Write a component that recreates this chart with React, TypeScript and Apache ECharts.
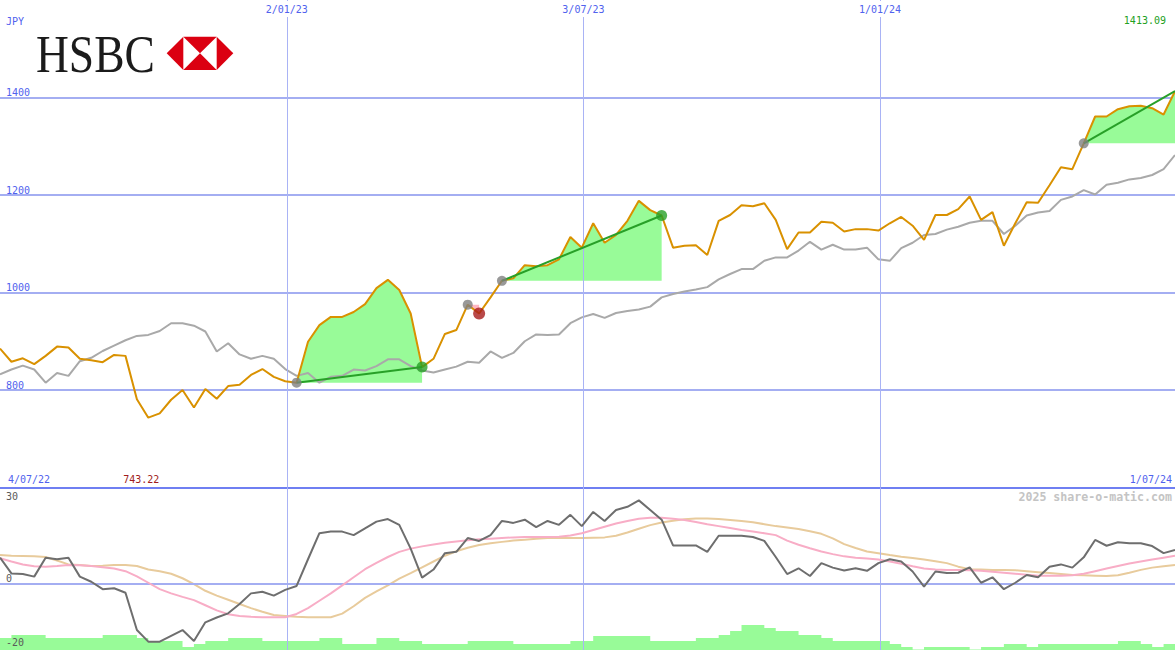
import React, { useEffect, useRef } from "react";
import * as echarts from "echarts";

// ---- data (weekly) ----
const START = Date.UTC(2022, 6, 10);
const WEEK = 7 * 24 * 3600 * 1000;

const price = [
  885, 858, 865, 853, 870, 889, 887, 864, 861, 857,
  872, 870, 781, 743.22, 752, 780, 800, 764, 802, 782,
  808, 811, 831, 843, 827, 818, 815, 899, 933, 950,
  950, 960, 976, 1009, 1026, 1005, 957, 847, 864, 915,
  923, 975, 957, 990, 1024, 1029, 1056, 1054, 1056, 1068,
  1114, 1092, 1142, 1102, 1118, 1147, 1188, 1169, 1158, 1092,
  1096, 1097, 1077, 1147, 1159, 1179, 1177, 1183, 1149, 1089,
  1123, 1123, 1145, 1143, 1125, 1130, 1130, 1127, 1142, 1155,
  1137, 1108, 1159, 1159, 1171, 1197, 1149, 1165, 1096, 1142,
  1185, 1184, 1220, 1257, 1253, 1306, 1361, 1361, 1376, 1382,
  1383, 1378, 1365, 1413.09,
];

const marketIndex = [
  832, 842, 850, 842, 815, 835, 829, 859, 866, 880,
  891, 902, 911, 913, 921, 937, 937, 932, 920, 879,
  896, 873, 864, 870, 864, 843, 829, 835, 815, 827,
  829, 842, 840, 849, 863, 863, 849, 840, 836, 842,
  848, 858, 856, 879, 866, 876, 900, 914, 913, 914,
  937, 949, 956, 948, 958, 962, 965, 971, 990, 997,
  1002, 1006, 1011, 1027, 1038, 1048, 1048, 1065, 1072, 1072,
  1086, 1104, 1088, 1098, 1088, 1088, 1092, 1068, 1065, 1091,
  1102, 1118, 1120, 1129, 1135, 1143, 1147, 1147, 1120, 1137,
  1158, 1164, 1167, 1190, 1197, 1210, 1201, 1221, 1225, 1232,
  1235, 1241, 1253, 1282,
];

const momentum = [
  8.2, 3.3, 3.1, 2.3, 8.2, 7.7, 8.2, 2.3, 0.7, -1.6,
  -1.3, -2.7, -14.3, -17.9, -17.9, -16.1, -14.3, -17.7, -11.9, -10.4,
  -9.1, -6.2, -2.9, -2.4, -3.6, -1.8, -0.6, 7.7, 15.8, 16.3,
  16.3, 15.2, 17.3, 19.4, 20.2, 18.4, 11, 2, 4.5, 9.6,
  10, 14.3, 13.4, 15.2, 19.6, 19, 20, 17.7, 19.6, 18.4,
  21.5, 18, 22.4, 19.6, 23, 24, 26, 23, 20, 12,
  12, 12, 10, 15, 15, 15, 14.6, 13.4, 8.4, 3.1,
  4.9, 2.5, 6.5, 5.1, 4.2, 4.9, 4.1, 6.5, 7.7, 7,
  3.9, -0.8, 3.9, 3.4, 3.5, 5.2, 0.4, 2.1, -1.6, 0.4,
  2.8, 2.1, 5.4, 6.1, 5.1, 8.3, 13.7, 11.9, 13, 12.7,
  12.7, 11.8, 9.6, 10.6,
];

const momentumFast = [
  8, 7, 6.1, 5.5, 5.4, 5.6, 5.9, 5.8, 5.6, 5.2,
  4.8, 4.0, 2.4, 0.4, -1.6, -2.9, -4.0, -5.0, -6.6, -8.2,
  -9.4, -9.9, -10.2, -10.3, -10.3, -10.3, -9.3, -7.5, -5.2, -2.9,
  -0.4, 2.1, 4.6, 6.6, 8.4, 10.0, 11.0, 11.7, 12.3, 12.8,
  13.2, 13.6, 13.9, 14.1, 14.3, 14.5, 14.6, 14.6, 14.6, 14.7,
  15.1, 15.8, 16.8, 17.8, 18.8, 19.6, 20.3, 20.6, 20.6, 20.3,
  19.9, 19.3, 18.6, 18.0, 17.4, 16.8, 16.3, 15.8, 15.2, 13.5,
  12.2, 11.1, 10.1, 9.3, 8.6, 8.2, 7.9, 7.6, 7.0, 6.3,
  5.5, 4.8, 4.5, 4.4, 4.4, 4.3, 4.1, 3.8, 3.5, 3.2,
  2.9, 2.6, 2.6, 2.6, 2.7, 3.2, 4.0, 4.8, 5.6, 6.4,
  7.0, 7.6, 8.2, 8.8,
];

const momentumSlow = [
  9.0, 8.8, 8.7, 8.6, 8.4, 7.3, 6.1, 5.9, 5.6, 5.7,
  5.9, 5.9, 5.6, 4.5, 4.0, 3.2, 1.8, 0.0, -2.1, -3.6,
  -4.9, -6.2, -7.5, -8.6, -9.6, -9.9, -10.2, -10.3, -10.3, -10.3,
  -9.2, -6.9, -4.3, -2.3, -0.4, 1.7, 3.4, 5.2, 7.0, 8.8,
  10.2, 11.3, 12.1, 12.7, 13.1, 13.5, 13.8, 14.1, 14.3, 14.3,
  14.3, 14.3, 14.4, 14.5, 15.0, 16.0, 17.2, 18.3, 19.1, 19.7,
  20.1, 20.4, 20.4, 20.2, 19.9, 19.6, 19.2, 18.6, 18.0, 17.6,
  17.1, 16.4, 15.6, 14.2, 12.4, 11.2, 10.1, 9.6, 9.0, 8.5,
  8.1, 7.6, 7.1, 6.5, 5.4, 4.6, 4.5, 4.4, 4.4, 4.3,
  4.0, 3.7, 3.4, 3.1, 2.8, 2.7, 2.6, 2.5, 2.7, 3.5,
  4.4, 5.1, 5.5, 5.9,
];

const volume = [
  12, 15, 15, 15, 12, 12, 12, 12, 12, 15,
  15, 15, 12, 9, 9, 9, 3, 6, 9, 9,
  12, 12, 12, 9, 9, 9, 9, 9, 12, 12,
  6, 6, 6, 12, 12, 9, 9, 6, 6, 6,
  6, 9, 9, 9, 9, 6, 6, 6, 6, 6,
  9, 9, 14, 14, 14, 14, 14, 9, 9, 9,
  9, 12, 12, 15, 19, 25, 25, 22, 19, 19,
  15, 15, 12, 9, 9, 9, 9, 9, 6, 3,
  0.5, 3, 3, 3, 3, 0.5, 3, 3, 6, 6,
  3, 6, 6, 6, 6, 6, 6, 6, 9, 9,
  6, 3, 6, 6,
];

const gridDates = [Date.UTC(2023, 0, 2), Date.UTC(2023, 6, 3), Date.UTC(2024, 0, 1)];
const gridDateLabels = ["2/01/23", "3/07/23", "1/01/24"];
const rangeStartLabel = "4/07/22";
const rangeEndLabel = "1/07/24";
const lowerTicks = [30, 0, -20];

const tradeEntry = [26, 41, 44, 95];
const tradeExit = [37, 42, 58, 103];
const tradeResult = ["win", "loss", "win", "open"];

const MONO = '"DejaVu Sans Mono", monospace';
const BLUE_TXT = "#5062ee";
const GRID_LINE = "#a4aef2";

export default function App() {
  const ref = useRef<HTMLDivElement>(null);

  useEffect(() => {
    const chart = echarts.init(ref.current as HTMLDivElement, null, { renderer: "svg" });
    const t = price.map((_, i) => START + i * WEEK);
    const pts = (arr: number[]) => arr.map((v, i) => [t[i], v]);

    const series: any[] = [];

    // trade fills
    tradeEntry.forEach((e, k) => {
      const x = tradeExit[k];
      const base = price[e];
      const loss = tradeResult[k] === "loss";
      const idx: number[] = [];
      for (let i = e; i <= x; i++) idx.push(i);
      series.push({
        type: "line", xAxisIndex: 0, yAxisIndex: 0, stack: "trade" + k, symbol: "none", silent: true,
        lineStyle: { opacity: 0, width: 0 }, z: 2,
        data: idx.map((i) => [t[i], loss ? price[i] : base]),
      });
      series.push({
        type: "line", xAxisIndex: 0, yAxisIndex: 0, stack: "trade" + k, symbol: "none", silent: true,
        lineStyle: { opacity: 0, width: 0 }, z: 2,
        areaStyle: { color: loss ? "#ffb6c1" : "#98fb98", opacity: 1 },
        data: idx.map((i) => [t[i], loss ? base - price[i] : price[i] - base]),
      });
    });

    // main grid vertical lines
    series.push({
      type: "line", xAxisIndex: 0, yAxisIndex: 0, data: [], z: 3, silent: true,
      markLine: {
        silent: true, symbol: "none", label: { show: false },
        lineStyle: { color: "#a9b3f5", width: 1, type: "solid" },
        data: gridDates.map((d) => ({ xAxis: d })),
      },
    });

    series.push({
      type: "line", xAxisIndex: 0, yAxisIndex: 0, symbol: "none", silent: true, z: 4,
      lineStyle: { color: "#a9a9a9", width: 2 }, data: pts(marketIndex),
    });
    series.push({
      type: "line", xAxisIndex: 0, yAxisIndex: 0, symbol: "none", silent: true, z: 5,
      lineStyle: { color: "#d99100", width: 2 }, data: pts(price),
    });

    // trend lines
    tradeEntry.forEach((e, k) => {
      if (tradeResult[k] === "loss") return;
      const x = tradeExit[k];
      series.push({
        type: "line", xAxisIndex: 0, yAxisIndex: 0, symbol: "none", silent: true, z: 6,
        lineStyle: { color: "#28a028", width: 2 },
        data: [[t[e], price[e]], [t[x], price[x]]],
      });
    });

    // markers
    series.push({
      type: "scatter", xAxisIndex: 0, yAxisIndex: 0, symbolSize: 10, silent: true, z: 7,
      itemStyle: { color: "#808080" },
      data: tradeEntry.map((e) => [t[e], price[e]]),
    });
    series.push({
      type: "scatter", xAxisIndex: 0, yAxisIndex: 0, symbolSize: 11, silent: true, z: 7,
      itemStyle: { color: "#28a028" },
      data: tradeExit.filter((_, k) => tradeResult[k] === "win").map((x) => [t[x], price[x]]),
    });
    series.push({
      type: "scatter", xAxisIndex: 0, yAxisIndex: 0, symbolSize: 12, silent: true, z: 7,
      itemStyle: { color: "#a81c1c" },
      data: tradeExit.filter((_, k) => tradeResult[k] === "loss").map((x) => [t[x], price[x]]),
    });

    // lower panel
    series.push({
      type: "line", xAxisIndex: 1, yAxisIndex: 1, data: [], z: 1, silent: true,
      markLine: {
        silent: true, symbol: "none", label: { show: false },
        lineStyle: { color: "#a9b3f5", width: 1, type: "solid" },
        data: gridDates.map((d) => ({ xAxis: d })),
      },
    });
    series.push({
      type: "line", xAxisIndex: 1, yAxisIndex: 1, data: [], z: 3, silent: true,
      markLine: {
        silent: true, symbol: "none", label: { show: false },
        lineStyle: { color: GRID_LINE, width: 2, type: "solid" },
        data: [{ yAxis: 0 }],
      },
    });
    series.push({
      type: "line", xAxisIndex: 1, yAxisIndex: 2, step: "end", symbol: "none", silent: true, z: 2,
      lineStyle: { width: 0, opacity: 0 }, areaStyle: { color: "#98fb98", opacity: 1 },
      data: pts(volume),
    });
    series.push({
      type: "line", xAxisIndex: 1, yAxisIndex: 1, symbol: "none", silent: true, z: 4,
      lineStyle: { color: "#e8cb9c", width: 2 }, data: pts(momentumSlow),
    });
    series.push({
      type: "line", xAxisIndex: 1, yAxisIndex: 1, symbol: "none", silent: true, z: 5,
      lineStyle: { color: "#f8adc6", width: 2 }, data: pts(momentumFast),
    });
    series.push({
      type: "line", xAxisIndex: 1, yAxisIndex: 1, symbol: "none", silent: true, z: 6,
      lineStyle: { color: "#6e6e6e", width: 2 }, data: pts(momentum),
    });

    const xMin = t[0];
    const xMax = t[t.length - 1];

    chart.setOption({
      animation: false,
      backgroundColor: "#ffffff",
      textStyle: { fontFamily: MONO },
      grid: [
        { left: 0, right: 0, top: 0, height: 487.5, containLabel: false, outerBoundsMode: "none" },
        { left: 0, right: 0, top: 487.5, height: 162.5, containLabel: false, outerBoundsMode: "none" },
      ],
      xAxis: [
        {
          type: "time", gridIndex: 0, min: xMin, max: xMax,
          axisLine: { show: true, onZero: false, lineStyle: { color: "#6f7ff2", width: 2 } },
          axisTick: { show: false }, axisLabel: { show: false }, splitLine: { show: false },
        },
        {
          type: "time", gridIndex: 1, min: xMin, max: xMax,
          axisLine: { show: false }, axisTick: { show: false }, axisLabel: { show: false }, splitLine: { show: false },
        },
      ],
      yAxis: [
        {
          type: "value", gridIndex: 0, min: 600, max: 1600, interval: 200,
          axisLine: { show: false }, axisTick: { show: false },
          splitLine: { show: true, showMinLine: false, showMaxLine: false, lineStyle: { color: GRID_LINE, width: 2 } },
          axisLabel: {
            inside: true, margin: 6, verticalAlign: "bottom", color: BLUE_TXT,
            fontFamily: MONO, fontSize: 10,
            formatter: (v: number) => (v > 600 && v < 1600 ? String(v) : ""),
          },
        },
        {
          type: "value", gridIndex: 1, min: -20.5, max: 30,
          axisLine: { show: false }, axisTick: { show: false }, axisLabel: { show: false }, splitLine: { show: false },
        },
        {
          type: "value", gridIndex: 1, min: 0, max: 162.5,
          axisLine: { show: false }, axisTick: { show: false }, axisLabel: { show: false }, splitLine: { show: false },
        },
      ],
      series,
    });

    const px = (v: number) => chart.convertToPixel({ xAxisIndex: 0 }, v) as number;
    const pyLow = (v: number) => chart.convertToPixel({ yAxisIndex: 1 }, v) as number;

    const txt = (text: string, x: number, y: number, fill: string, align = "left", extra: any = {}) => ({
      type: "text", x, y, silent: true, z: 100,
      style: {
        text, fill, font: `10px ${MONO}`,
        align, verticalAlign: "middle", textAlign: align, textVerticalAlign: "middle", ...extra,
      },
    });

    const minIdx = price.indexOf(Math.min(...price));
    const maxIdx = price.indexOf(Math.max(...price));

    const graphics: any[] = [
      // HSBC logo
      {
        type: "text", x: 36, y: 54, scaleX: 0.875, silent: true, z: 100,
        style: {
          text: "HSBC", fill: "#1b1b1b", font: '52px "Liberation Serif", serif',
          align: "left", verticalAlign: "middle", textAlign: "left", textVerticalAlign: "middle",
        },
      },
      { type: "polygon", silent: true, z: 100, shape: { points: [[166.7, 53.3], [183.3, 36.7], [183.3, 70]] }, style: { fill: "#db0011" } },
      { type: "polygon", silent: true, z: 100, shape: { points: [[233.3, 53.3], [216.7, 36.7], [216.7, 70]] }, style: { fill: "#db0011" } },
      { type: "polygon", silent: true, z: 100, shape: { points: [[183.3, 36.7], [216.7, 36.7], [200, 53.3]] }, style: { fill: "#db0011" } },
      { type: "polygon", silent: true, z: 100, shape: { points: [[183.3, 70], [216.7, 70], [200, 53.3]] }, style: { fill: "#db0011" } },
      txt("JPY", 6, 21, BLUE_TXT),
      txt(rangeStartLabel, 8, 479, BLUE_TXT),
      txt(rangeEndLabel, 1172, 479, BLUE_TXT, "right"),
      txt(price[minIdx].toFixed(2), px(t[minIdx]) - 7, 479, "#a01c1c", "center"),
      txt(price[maxIdx].toFixed(2), px(t[maxIdx]) - 9, 20.5, "#22a022", "right"),
      txt("2025 share-o-matic.com", 1172, 496.5, "#c4c4c4", "right", { font: `bold 11.6px ${MONO}` }),
      txt(String(lowerTicks[0]), 6, pyLow(lowerTicks[0]) + 8.5, "#5a5a5a"),
      txt(String(lowerTicks[1]), 6, pyLow(lowerTicks[1]) - 6, "#5a5a5a"),
      txt(String(lowerTicks[2]), 6, pyLow(lowerTicks[2]) - 6, "#5a5a5a"),
    ];
    gridDates.forEach((d, k) => {
      graphics.push(txt(gridDateLabels[k], px(d), 9, BLUE_TXT, "center", { backgroundColor: "#ffffff", padding: [3, 2, 3, 2] }));
    });

    chart.setOption({ graphic: graphics });

    return () => chart.dispose();
  }, []);

  return (
    <div
      ref={ref}
      style={{ position: "fixed", left: 0, top: 0, width: 1175, height: 650, background: "#ffffff" }}
    />
  );
}
